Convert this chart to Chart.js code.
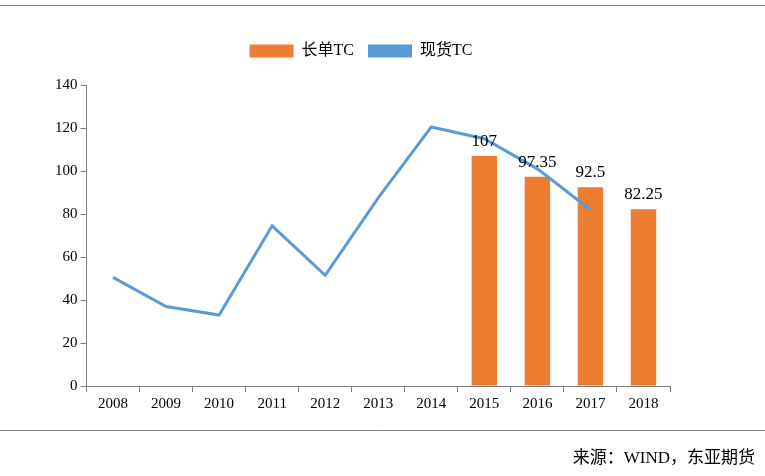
<!DOCTYPE html>
<html>
<head>
<meta charset="utf-8">
<script src="https://cdn.jsdelivr.net/npm/chart.js@4"></script>
<style>
  body { margin: 0; background: #fff; }
  #wrap { width: 765px; height: 476px; position: relative; }
</style>
</head>
<body>
<div id="wrap"><canvas id="chart" width="765" height="476"></canvas></div>
<script>
'use strict';
// データ
const years = ['2008', '2009', '2010', '2011', '2012', '2013', '2014', '2015', '2016', '2017', '2018'];
const longTC = [null, null, null, null, null, null, null, 107, 97.35, 92.5, 82.25];
const spotTC = [50.5, 37, 33, 74.5, 51.5, 87.5, 120.5, 115, 101, 82, null];
const yTicks = [0, 20, 40, 60, 80, 100, 120, 140];

const SERIF = '"Liberation Serif", "Noto Sans CJK SC", serif';

// 凡例の下に余白を追加
const legendGap = {
  id: 'legendGap',
  beforeInit(chart) {
    const fit = chart.legend.fit;
    chart.legend.fit = function () {
      fit.call(this);
      this.height += 16;
    };
  },
};

// 枠線・出典・データラベル
const decor = {
  id: 'decor',
  afterDatasetsDraw(chart) {
    const { ctx } = chart;
    const meta = chart.getDatasetMeta(0);
    ctx.save();
    ctx.fillStyle = '#000';
    ctx.font = '17px ' + SERIF;
    ctx.textAlign = 'center';
    ctx.textBaseline = 'bottom';
    meta.data.forEach((bar, i) => {
      if (longTC[i] == null) return;
      ctx.fillText(String(longTC[i]), bar.x, bar.y - 6);
    });
    ctx.restore();
  },
  afterDraw(chart) {
    const { ctx } = chart;
    ctx.save();
    ctx.strokeStyle = '#7f7f7f';
    ctx.lineWidth = 1;
    ctx.beginPath();
    ctx.moveTo(0, 5.5); ctx.lineTo(765, 5.5);
    ctx.moveTo(0, 430.5); ctx.lineTo(765, 430.5);
    ctx.stroke();
    ctx.fillStyle = '#000';
    ctx.font = '17px ' + SERIF;
    ctx.textAlign = 'right';
    ctx.textBaseline = 'middle';
    ctx.fillText('来源：WIND，东亚期货', 755, 459);
    ctx.restore();
  },
};

new Chart(document.getElementById('chart'), {
  type: 'bar',
  data: {
    labels: years,
    datasets: [
      {
        type: 'bar',
        label: '长单TC',
        data: longTC,
        backgroundColor: '#ED7D31',
        barPercentage: 0.48,
        categoryPercentage: 1,
        order: 2,
      },
      {
        type: 'line',
        label: '现货TC',
        data: spotTC,
        borderColor: '#5B9BD5',
        backgroundColor: '#5B9BD5',
        borderWidth: 3,
        pointRadius: 0,
        tension: 0,
        order: 1,
      },
    ],
  },
  options: {
    responsive: false,
    animation: false,
    layout: { padding: { left: 52, right: 95, top: 29, bottom: 60 } },
    plugins: {
      legend: {
        labels: {
          font: { family: SERIF, size: 16 },
          color: '#000',
          boxWidth: 44,
          boxHeight: 13,
          padding: 14,
          generateLabels(chart) {
            return chart.data.datasets.map((d, i) => ({
              text: d.label,
              fillStyle: d.backgroundColor,
              strokeStyle: d.backgroundColor,
              lineWidth: 0,
              datasetIndex: i,
            }));
          },
        },
      },
      tooltip: { enabled: false },
    },
    scales: {
      x: {
        grid: { drawOnChartArea: false, color: '#7f7f7f', tickLength: 6, offset: true },
        border: { color: '#7f7f7f' },
        ticks: { font: { family: SERIF, size: 15 }, color: '#000' },
      },
      y: {
        min: 0,
        max: 140,
        afterBuildTicks(axis) { axis.ticks = yTicks.map(v => ({ value: v })); },
        grid: { drawOnChartArea: false, color: '#7f7f7f', tickLength: 6 },
        border: { color: '#7f7f7f' },
        ticks: { font: { family: SERIF, size: 15 }, color: '#000' },
      },
    },
  },
  plugins: [legendGap, decor],
});
</script>
</body>
</html>
